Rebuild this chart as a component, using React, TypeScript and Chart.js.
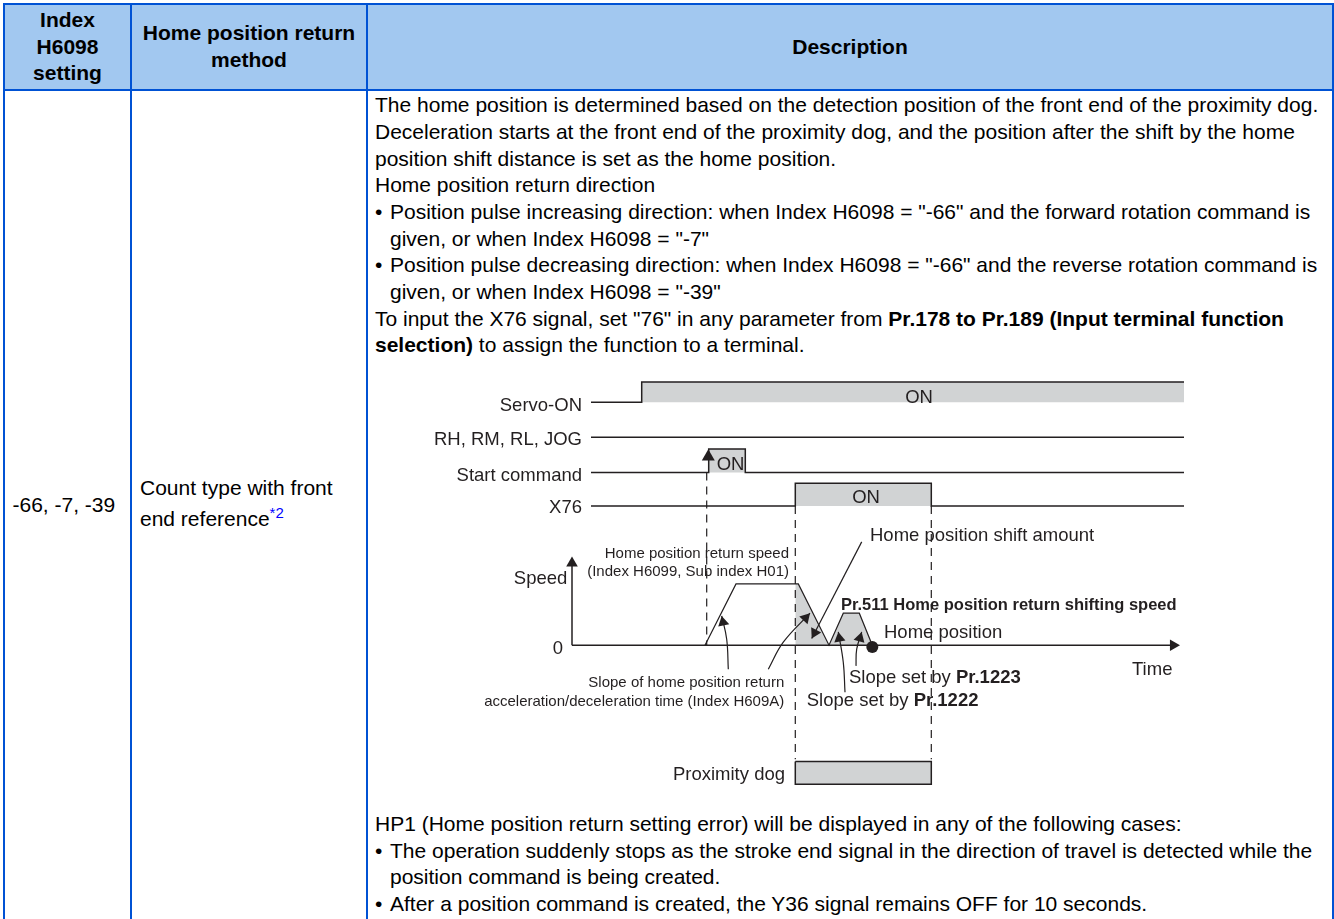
import React, { useEffect, useRef } from "react";
import { Chart, registerables } from "chart.js";

Chart.register(...registerables);

// ---------- table text ----------
const headerIndex = ["Index", "H6098", "setting"];
const headerMethod = ["Home position return", "method"];
const headerDescription = "Description";
const indexValue = "-66, -7, -39";
const methodLines = ["Count type with front", "end reference"];
const methodNote = "*2";
const upperLines: [string, boolean][] = [
  ["The home position is determined based on the detection position of the front end of the proximity dog.", false],
  ["Deceleration starts at the front end of the proximity dog, and the position after the shift by the home", false],
  ["position shift distance is set as the home position.", false],
  ["Home position return direction", false],
];
const bulletUpper = [
  ["Position pulse increasing direction: when Index H6098 = \"-66\" and the forward rotation command is", "given, or when Index H6098 = \"-7\""],
  ["Position pulse decreasing direction: when Index H6098 = \"-66\" and the reverse rotation command is", "given, or when Index H6098 = \"-39\""],
];
const lowerLines = ["HP1 (Home position return setting error) will be displayed in any of the following cases:"];
const bulletLower = [
  ["The operation suddenly stops as the stroke end signal in the direction of travel is detected while the", "position command is being created."],
  ["After a position command is created, the Y36 signal remains OFF for 10 seconds."],
];

// ---------- timing diagram: time axis values ----------
const axisTime = [0, 598];
const axisSpeed = [0, 80];

const servoTime = [19, 69.7, 69.7, 612];
const servoLevel = [243, 243, 263.3, 263.3];
const jogTime = [19, 612];
const jogLevel = [208, 208];
const startTime = [19, 136.7, 136.7, 173.3, 173.3, 612];
const startLevel = [172.7, 172.7, 196.3, 196.3, 172.7, 172.7];
const x76Time = [19, 223.3, 223.3, 359.3, 359.3, 612];
const x76Level = [139.3, 139.3, 162, 162, 139.3, 139.3];

const speedTime = [133, 164, 226.3, 257, 271.3, 287.3, 300.3];
const speedValue = [0, 61.3, 61.3, 0, 32, 32, 0];
const decelShadeTime = [223.3, 226.3, 257];
const decelShadeValue = [61.3, 61.3, 0];
const shiftShadeTime = [257, 271.3, 287.3, 300.3];
const shiftShadeValue = [0, 32, 32, 0];
const homeTime = [300.3];
const homeValue = [-1.7];

const dogTime = [223.3, 359.3, 359.3, 223.3, 223.3];
const dogLevel = [-116.3, -116.3, -139, -139, -116.3];

const dashStart = { t: [134.7, 134.7], v: [172.7, 0] };
const dashFront = { t: [223.3, 223.3], v: [139.3, -114] };
const dashRear = { t: [359.3, 359.3], v: [139.3, -114] };

// leader lines (last point is the arrow tip)
const leaderShift = { t: [289.7, 239.7], v: [103.3, 6.7] };
const leaderAccel = { t: [156.3, 154.7, 149.7], v: [-24, 6, 29.3] };
const leaderDecel = { t: [196.3, 211.3, 238], v: [-24, 3, 32] };
const leader1222 = { t: [273, 271.3, 266.3], v: [-47, -17.3, 13.3] };
const leader1223 = { t: [284, 284.7, 289.7], v: [-20.7, -4, 13.3] };

// ---------- diagram text ----------
const signalNames = ["Servo-ON", "RH, RM, RL, JOG", "Start command", "X76"];
const signalNameLevels = [234.5, 200, 164.3, 132];
const diagramTexts: [string, boolean][][] = [
  [["ON", false]],
  [["ON", false]],
  [["ON", false]],
  [["Home position shift amount", false]],
  [["Home position return speed", false]],
  [["(Index H6099, Sub index H01)", false]],
  [["Speed", false]],
  [["Pr.511 Home position return shifting speed", true]],
  [["Home position", false]],
  [["0", false]],
  [["Time", false]],
  [["Slope set by ", false], ["Pr.1223", true]],
  [["Slope set by ", false], ["Pr.1222", true]],
  [["Slope of home position return", false]],
  [["acceleration/deceleration time (Index H609A)", false]],
  [["Proximity dog", false]],
];
const diagramTextT = [347, 144.7, 294, 298, 217, 217, -4.7, 269, 312, -9, 560, 277, 234.7, 212.3, 212.3, 213];
const diagramTextV = [242.5, 175, 142, 104.3, 87.7, 69, 61.7, 35.3, 7, -9, -30, -38, -60.7, -41.7, -60.7, -135];
const diagramTextAlign = ["center", "left", "center", "left", "right", "right", "right", "left", "left", "right", "left", "left", "left", "right", "right", "right"];
const diagramTextSize = [18.5, 18.5, 18.5, 18.5, 15, 15, 18.5, 16.5, 18.5, 18.5, 18.5, 18.5, 18.5, 15, 15, 18.5];

const INK = "#231f20";
const GREY = "#d1d3d4";
const FONT = '"Liberation Sans", Arial, sans-serif';

const xy = (t: number[], v: number[]) => t.map((x, i) => ({ x, y: v[i] }));

const line = (t: number[], v: number[], extra: any = {}) => ({
  data: xy(t, v),
  showLine: true,
  pointRadius: 0,
  borderColor: INK,
  borderWidth: 1.5,
  fill: false,
  ...extra,
});

const shade = (t: number[], v: number[], base: number) =>
  line(t, v, { borderWidth: 0, borderColor: "transparent", backgroundColor: GREY, fill: { value: base } });

// arrow head as a library triangle point, placed behind the tip along the leader's end direction
const heads = (leaders: { t: number[]; v: number[] }[], r: number) => {
  const pts: { x: number; y: number }[] = [];
  const rot: number[] = [];
  leaders.forEach(({ t, v }) => {
    const n = t.length - 1;
    const dx = t[n] - t[n - 1];
    const dy = v[n] - v[n - 1];
    const len = Math.hypot(dx, dy);
    pts.push({ x: t[n] - (dx / len) * r, y: v[n] - (dy / len) * r });
    rot.push((Math.atan2(dx, dy) * 180) / Math.PI);
  });
  return { pts, rot };
};

const labelPlugin = {
  id: "diagramLabels",
  afterDatasetsDraw(chart: any) {
    const { ctx, scales } = chart;
    const put = (runs: [string, boolean][], t: number, v: number, align: string, size: number) => {
      const px = scales.x.getPixelForValue(t);
      const py = scales.y.getPixelForValue(v);
      ctx.save();
      ctx.fillStyle = INK;
      ctx.textBaseline = "alphabetic";
      ctx.textAlign = "left";
      const fontOf = (b: boolean) => `${b ? "bold " : ""}${size}px ${FONT}`;
      const widths = runs.map(([s, b]) => {
        ctx.font = fontOf(b);
        return ctx.measureText(s).width;
      });
      const total = widths.reduce((a, b) => a + b, 0);
      let x = align === "right" ? px - total : align === "center" ? px - total / 2 : px;
      runs.forEach(([s, b], i) => {
        ctx.font = fontOf(b);
        ctx.fillText(s, x, py);
        x += widths[i];
      });
      ctx.restore();
    };
    signalNames.forEach((s, i) => put([[s, false]], 10, signalNameLevels[i], "right", 18.5));
    diagramTexts.forEach((runs, i) => put(runs, diagramTextT[i], diagramTextV[i], diagramTextAlign[i], diagramTextSize[i]));
  },
};

const CANVAS_W = 780;
const CANVAS_H = 453;

function Diagram() {
  const ref = useRef<HTMLCanvasElement>(null);
  useEffect(() => {
    const leaderHeads = heads([leaderShift, leaderAccel, leaderDecel, leader1222, leader1223], 6.5);
    const axisHeads = heads(
      [
        { t: [0, 0], v: [0, 88.7] },
        { t: [0, 608], v: [0, 0] },
      ],
      6.7
    );
    const startHead = heads([{ t: [136.3, 136.3], v: [172.7, 196] }], 7.5);
    const dash = { borderDash: [8, 6], borderWidth: 1.2 };
    const thin = { borderWidth: 1.2 };
    // Chart.js paints the last dataset first, so this list runs from top-most to bottom-most.
    const datasets = [
      {
        data: xy(homeTime, homeValue),
        pointRadius: 6,
        backgroundColor: INK,
        borderColor: INK,
        borderWidth: 0,
      },
      {
        data: startHead.pts,
        pointStyle: "triangle",
        pointRadius: 7.5,
        pointRotation: startHead.rot,
        backgroundColor: INK,
        borderColor: INK,
        borderWidth: 0,
      },
      {
        data: axisHeads.pts,
        pointStyle: "triangle",
        pointRadius: 6.7,
        pointRotation: axisHeads.rot,
        backgroundColor: INK,
        borderColor: INK,
        borderWidth: 0,
      },
      {
        data: leaderHeads.pts,
        pointStyle: "triangle",
        pointRadius: 6.5,
        pointRotation: leaderHeads.rot,
        backgroundColor: INK,
        borderColor: INK,
        borderWidth: 0,
      },
      line(leader1223.t, leader1223.v, { ...thin, tension: 0.4 }),
      line(leader1222.t, leader1222.v, { ...thin, tension: 0.4 }),
      line(leaderDecel.t, leaderDecel.v, { ...thin, tension: 0.4 }),
      line(leaderAccel.t, leaderAccel.v, { ...thin, tension: 0.4 }),
      line(leaderShift.t, leaderShift.v, thin),
      line(dogTime, dogLevel),
      line(speedTime, speedValue, thin),
      line([0, 0], axisSpeed),
      line(axisTime, [0, 0]),
      line(dashRear.t, dashRear.v, dash),
      line(dashFront.t, dashFront.v, dash),
      line(dashStart.t, dashStart.v, dash),
      line(x76Time, x76Level),
      line(startTime, startLevel),
      line(jogTime, jogLevel),
      line(servoTime, servoLevel),
      shade(dogTime.slice(0, 2), dogLevel.slice(0, 2), -139),
      shade(shiftShadeTime, shiftShadeValue, 0),
      shade(decelShadeTime, decelShadeValue, 0),
      shade(x76Time.slice(2, 4), x76Level.slice(2, 4), 139.3),
      shade(startTime.slice(2, 4), startLevel.slice(2, 4), 172.7),
      shade(servoTime.slice(2), servoLevel.slice(2), 243),
    ];
    const chart = new Chart(ref.current as HTMLCanvasElement, {
      type: "scatter",
      data: { datasets } as any,
      options: {
        responsive: false,
        animation: false,
        layout: { padding: 0, autoPadding: false },
        plugins: { legend: { display: false }, tooltip: { enabled: false } },
        scales: {
          x: { type: "linear", display: false, min: -142, max: 638 },
          y: { type: "linear", display: false, min: -165.8, max: 287.2 },
        },
      } as any,
      plugins: [labelPlugin as any],
    });
    return () => chart.destroy();
  }, []);
  return (
    <canvas
      ref={ref}
      width={CANVAS_W}
      height={CANVAS_H}
      style={{ display: "block", width: CANVAS_W, height: CANVAS_H, marginLeft: 55, marginTop: -1, marginBottom: 0 }}
    />
  );
}

const BORDER = "2px solid #0052d4";
const textLine: React.CSSProperties = { whiteSpace: "nowrap", height: 26.67, lineHeight: "26.67px" };

const Bullet = ({ lines }: { lines: string[] }) => (
  <>
    {lines.map((s, i) => (
      <div key={i} style={{ ...textLine, position: "relative", paddingLeft: 15 }}>
        {i === 0 && <span style={{ position: "absolute", left: 0 }}>•</span>}
        {s}
      </div>
    ))}
  </>
);

export default function App() {
  useEffect(() => {
    document.body.style.margin = "0";
  }, []);
  const head: React.CSSProperties = {
    background: "#a2c8f0",
    border: BORDER,
    textAlign: "center",
    fontWeight: "bold",
    padding: 0,
    verticalAlign: "middle",
    lineHeight: "26.67px",
  };
  const body: React.CSSProperties = { border: BORDER, verticalAlign: "top", padding: 0 };
  return (
    <div style={{ position: "absolute", left: 0, top: 0, width: 1334, height: 919, overflow: "hidden", background: "#fff" }}>
      <table
        style={{
          position: "absolute",
          left: 3,
          top: 3,
          width: 1330,
          tableLayout: "fixed",
          borderCollapse: "collapse",
          fontFamily: FONT,
          fontSize: 21,
          color: "#000",
        }}
      >
        <colgroup>
          <col style={{ width: 127 }} />
          <col style={{ width: 236 }} />
          <col style={{ width: 966 }} />
        </colgroup>
        <thead>
          <tr style={{ height: 86 }}>
            <th style={head}>{headerIndex.map((s) => <div key={s}>{s}</div>)}</th>
            <th style={head}>{headerMethod.map((s) => <div key={s}>{s}</div>)}</th>
            <th style={head}>{headerDescription}</th>
          </tr>
        </thead>
        <tbody>
          <tr>
            <td style={body}>
              <div style={{ ...textLine, marginTop: 401, paddingLeft: 7.5 }}>{indexValue}</div>
            </td>
            <td style={body}>
              <div style={{ marginTop: 384.4, paddingLeft: 8 }}>
                <div style={{ ...textLine, height: 31 }}>{methodLines[0]}</div>
                <div style={textLine}>
                  {methodLines[1]}
                  <sup style={{ color: "#0000ff", fontSize: 15, lineHeight: 0 }}>{methodNote}</sup>
                </div>
              </div>
            </td>
            <td style={body}>
              <div style={{ paddingLeft: 7, paddingTop: 1.3, paddingBottom: 60 }}>
                {upperLines.map(([s], i) => <div key={i} style={textLine}>{s}</div>)}
                {bulletUpper.map((b, i) => <Bullet key={i} lines={b} />)}
                <div style={textLine}>
                  To input the X76 signal, set "76" in any parameter from <b>Pr.178 to Pr.189 (Input terminal function</b>
                </div>
                <div style={textLine}>
                  <b>selection)</b> to assign the function to a terminal.
                </div>
                <Diagram />
                {lowerLines.map((s) => <div key={s} style={textLine}>{s}</div>)}
                {bulletLower.map((b, i) => <Bullet key={i} lines={b} />)}
              </div>
            </td>
          </tr>
        </tbody>
      </table>
    </div>
  );
}
